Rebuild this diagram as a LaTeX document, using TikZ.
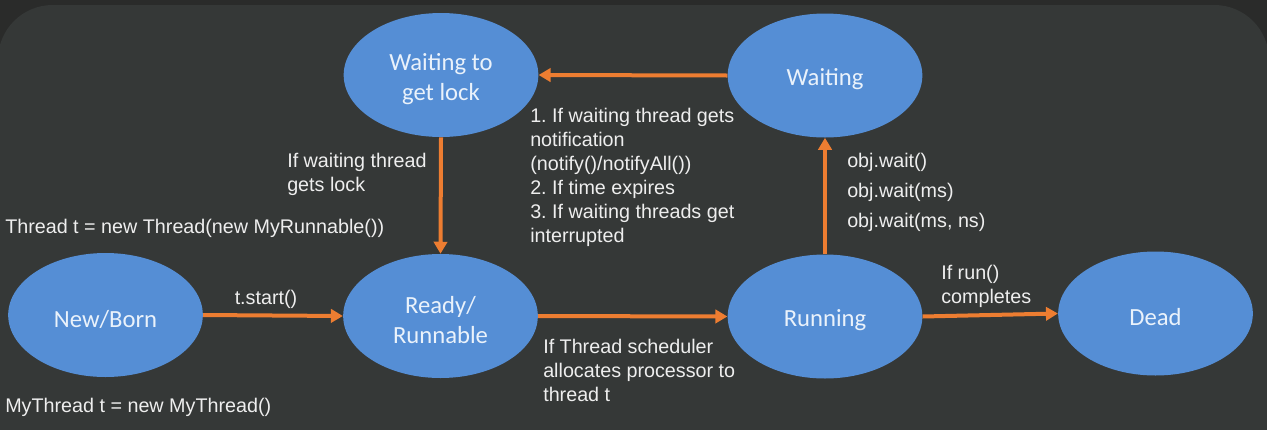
\documentclass[tikz,border=0pt]{standalone}
\usepackage{fontspec}
\setmainfont{Liberation Sans}
\newfontfamily\ellfont{Carlito}
\usetikzlibrary{shapes.geometric,arrows.meta}
\frenchspacing
\definecolor{outerbg}{HTML}{2A2B2A}
\definecolor{panelbg}{HTML}{353837}
\definecolor{stateblue}{HTML}{558ED5}
\definecolor{statetext}{HTML}{EAF2FB}
\definecolor{arroworange}{HTML}{ED7D31}
\definecolor{labeltext}{HTML}{EEEEEE}
\tikzset{
  state/.style={ellipse, fill=stateblue, draw=none, minimum width=146pt, minimum height=93pt,
    inner sep=0pt},
  statelbl/.style={align=center, inner sep=0pt, yshift=-3pt, text=statetext, font=\ellfont\fontsize{18.5}{23}\selectfont},
  trans/.style={draw=arroworange, line width=3pt, -{Triangle[length=9pt,width=10pt]}},
  lbl/.style={anchor=west, align=left, inner sep=0pt, text=labeltext, font=\fontsize{14.8}{18}\selectfont},
}
\begin{document}
\begin{tikzpicture}[x=0.75pt,y=-0.75pt]
\useasboundingbox (0,0) rectangle (1267,429);
\fill[outerbg] (0,0) rectangle (1267,429);
\fill[panelbg, rounded corners=41pt] (-2,5) rectangle (1269,480);

\node[state, label={[statelbl]center:Waiting to\\get lock}] (lock) at (441,75) {};
\node[state, label={[statelbl]center:Waiting}] (waiting) at (825,75.5) {};
\node[state, label={[statelbl]center:New/Born}] (newborn) at (105.5,315) {};
\node[state, label={[statelbl]center:Ready/\\Runnable}] (ready) at (440.5,316) {};
\node[state, label={[statelbl]center:Running}] (running) at (825,316.5) {};
\node[state, label={[statelbl]center:Dead}] (dead) at (1155.5,313.5) {};

\draw[trans] (newborn.east) -- (ready.west);
\draw[trans] (ready.east) -- (running.west);
\draw[trans] (running.east) -- (dead.west);
\draw[trans] (running.north) -- (waiting.south);
\draw[trans] (waiting.west) -- (lock.east);
\draw[trans] (lock.south) -- (ready.north);

\node[lbl, anchor=center] (lstart) at (266,299) {t.start()};
\node[lbl] (lsched) at (543,370) {If Thread scheduler\\allocates processor to\\thread t};
\node[lbl] (lrun) at (941,286.5) {If run()\\completes};
\node[lbl, font=\fontsize{14.8}{22.5}\selectfont] (lwait) at (847,192.5) {obj.wait()\\obj.wait(ms)\\obj.wait(ms, ns)};
\node[lbl] (lnotify) at (530,177.5) {1. If waiting thread gets\\notification\\(notify()/notifyAll())\\2. If time expires\\3. If waiting threads get\\interrupted};
\node[lbl] (llock) at (287,174) {If waiting thread\\gets lock};
\node[lbl] (lrunnable) at (5,228) {Thread t = new Thread(new MyRunnable())};
\node[lbl] (lmythread) at (5,407) {MyThread t = new MyThread()};
\end{tikzpicture}
\end{document}
